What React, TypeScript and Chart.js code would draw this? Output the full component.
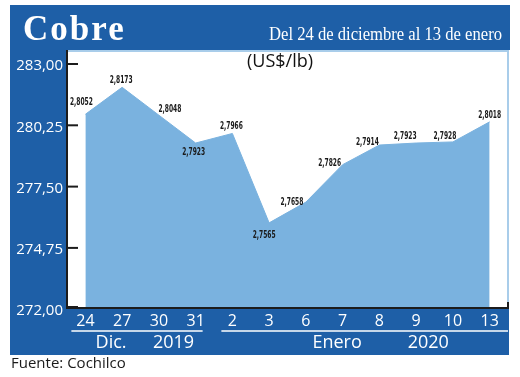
import React, { useEffect, useRef } from 'react';
import { Chart, registerables } from 'chart.js';

Chart.register(...registerables);

// ---- data ----
const categories = ['24', '27', '30', '31', '2', '3', '6', '7', '8', '9', '10', '13'];
// cents of US$/lb (axis units)
const prices = [280.52, 281.73, 280.48, 279.23, 279.66, 275.65, 276.58, 278.26, 279.14, 279.23, 279.28, 280.18];
const pointLabels = ['2,8052', '2,8173', '2,8048', '2,7923', '2,7966', '2,7565', '2,7658', '2,7826', '2,7914', '2,7923', '2,7928', '2,8018'];
const yTicks = [272, 274.75, 277.5, 280.25, 283];
const monthGroups = ['Dic.', 'Enero'];
const yearGroups = ['2019', '2020'];
const titleText = 'Cobre';
const subtitleText = 'Del 24 de diciembre al 13 de enero';
const unitText = '(US$/lb)';
const sourceText = 'Fuente: Cochilco';

// ---- styling / layout (not data) ----
const BLUE = '#1e5fa7';
const FILL = '#7ab2df';
const SANS = "'Open Sans', 'Noto Sans', sans-serif";
const labelOffsets: [number, number][] = [
  [-4, -12], [-1, -7], [11, -6], [-2, 9], [-1, -7], [-5, 12],
  [-14, 0], [-13, -2], [-12, -3], [-11, -7], [-8, -6], [0, -7],
];
// group label positions in category-index units
const groupSpans = [[0, 3], [4, 11]];
const monthPos = [0.7, 6.85];
const yearPos = [2.4, 9.33];

const decoPlugin = {
  id: 'deco',
  beforeDraw(chart: any) {
    const ctx = chart.ctx;
    const { left, right, bottom } = chart.chartArea;
    ctx.save();
    ctx.fillStyle = '#ffffff';
    ctx.fillRect(0, 0, chart.width, chart.height);
    ctx.fillStyle = BLUE;
    ctx.fillRect(10, 5, 500, 45);
    ctx.fillRect(10, 50, left - 1 - 10, bottom - 50);
    ctx.fillRect(10, bottom, right + 1 - 10, 355 - bottom);
    ctx.strokeStyle = '#a9cdea';
    ctx.lineWidth = 2;
    ctx.beginPath();
    ctx.moveTo(left, 51);
    ctx.lineTo(right, 51);
    ctx.lineTo(right, bottom);
    ctx.stroke();
    ctx.restore();
  },
  afterDatasetsDraw(chart: any) {
    const ctx = chart.ctx;
    const { left, right, bottom } = chart.chartArea;
    const yScale = chart.scales.y;
    ctx.save();
    // axes
    ctx.strokeStyle = '#1c1c1c';
    ctx.lineWidth = 2;
    ctx.beginPath();
    ctx.moveTo(left, 50);
    ctx.lineTo(left, bottom);
    ctx.lineTo(right, bottom);
    ctx.lineTo(right, bottom - 6);
    ctx.stroke();
    ctx.lineWidth = 2;
    yTicks.forEach((t) => {
      const y = Math.min(yScale.getPixelForValue(t) + 5, bottom - 1);
      ctx.beginPath();
      ctx.moveTo(left, y);
      ctx.lineTo(left + 11, y);
      ctx.stroke();
    });
    // data labels
    const meta = chart.getDatasetMeta(0);
    ctx.fillStyle = '#1a1a1a';
    ctx.font = "bold 11px 'Liberation Sans Narrow', 'DejaVu Sans Condensed', sans-serif";
    ctx.textAlign = 'center';
    ctx.textBaseline = 'middle';
    meta.data.forEach((pt: any, i: number) => {
      const [dx, dy] = labelOffsets[i];
      ctx.fillText(pointLabels[i], pt.x + dx, pt.y + dy, 23);
    });
    ctx.restore();
  },
  afterDraw(chart: any) {
    const ctx = chart.ctx;
    const { right } = chart.chartArea;
    const xScale = chart.scales.x;
    const step = xScale.getPixelForValue(1) - xScale.getPixelForValue(0);
    const at = (f: number) => xScale.getPixelForValue(0) + f * step;
    ctx.save();
    // header
    ctx.fillStyle = '#ffffff';
    ctx.textBaseline = 'alphabetic';
    ctx.textAlign = 'left';
    ctx.font = "bold 35px 'Liberation Serif', 'DejaVu Serif', serif";
    (ctx as any).letterSpacing = '2px';
    ctx.fillText(titleText, 23, 40);
    (ctx as any).letterSpacing = '0px';
    ctx.textAlign = 'right';
    ctx.font = "18px 'Liberation Serif', 'DejaVu Serif', serif";
    ctx.fillText(subtitleText, 502, 40, 233);
    // unit
    ctx.fillStyle = '#111111';
    ctx.textAlign = 'center';
    ctx.textBaseline = 'middle';
    ctx.font = `18px ${SANS}`;
    ctx.fillText(unitText, 280, 62);
    // group underlines
    ctx.strokeStyle = '#ffffff';
    ctx.lineWidth = 1.5;
    groupSpans.forEach(([a, b], gi) => {
      const x0 = gi === 0 ? at(a) - 14 : at(a) - 11;
      const x1 = gi === 0 ? at(b) + 7 : right;
      ctx.beginPath();
      ctx.moveTo(x0, 331);
      ctx.lineTo(x1, 331);
      ctx.stroke();
    });
    ctx.fillStyle = '#ffffff';
    ctx.font = `18px ${SANS}`;
    monthGroups.forEach((m, i) => ctx.fillText(m, at(monthPos[i]), 343));
    yearGroups.forEach((y, i) => ctx.fillText(y, at(yearPos[i]), 343));
    // footer
    ctx.fillStyle = '#1a1a1a';
    ctx.textAlign = 'left';
    ctx.font = `15px ${SANS}`;
    ctx.fillText(sourceText, 11, 364);
    ctx.restore();
  },
};

export default function App() {
  const ref = useRef<HTMLCanvasElement | null>(null);
  useEffect(() => {
    document.body.style.margin = '0';
    const canvas = ref.current;
    if (!canvas) return;
    const chart = new Chart(canvas, {
      type: 'line',
      data: {
        labels: categories,
        datasets: [
          {
            data: prices,
            borderColor: FILL,
            backgroundColor: FILL,
            borderWidth: 1,
            fill: 'start',
            pointRadius: 0,
            tension: 0,
          },
        ],
      },
      options: {
        animation: false,
        responsive: false,
        devicePixelRatio: 1,
        layout: { padding: { top: 59, left: 10, right: 12, bottom: 0 } },
        plugins: { legend: { display: false }, tooltip: { enabled: false }, title: { display: false } },
        scales: {
          x: {
            type: 'category',
            offset: true,
            grid: { display: false, drawTicks: false },
            border: { display: false },
            ticks: { color: '#ffffff', font: { size: 16, family: SANS }, padding: 4, maxRotation: 0, autoSkip: false },
            afterFit: (s: any) => { s.height = 69; },
          },
          y: {
            min: 271.83,
            max: 283,
            grid: { display: false, drawTicks: false },
            border: { display: false },
            afterBuildTicks: (s: any) => { s.ticks = yTicks.map((v) => ({ value: v })); },
            ticks: {
              color: '#ffffff',
              font: { size: 15, family: SANS },
              padding: 4,
              labelOffset: 7,
              callback: (v: any) => Number(v).toFixed(2).replace('.', ','),
            },
            afterFit: (s: any) => { s.width = 57; },
          },
        },
      },
      plugins: [decoPlugin],
    });
    return () => chart.destroy();
  }, []);
  return (
    <div style={{ width: 520, height: 377 }}>
      <canvas ref={ref} width={520} height={377} />
    </div>
  );
}
